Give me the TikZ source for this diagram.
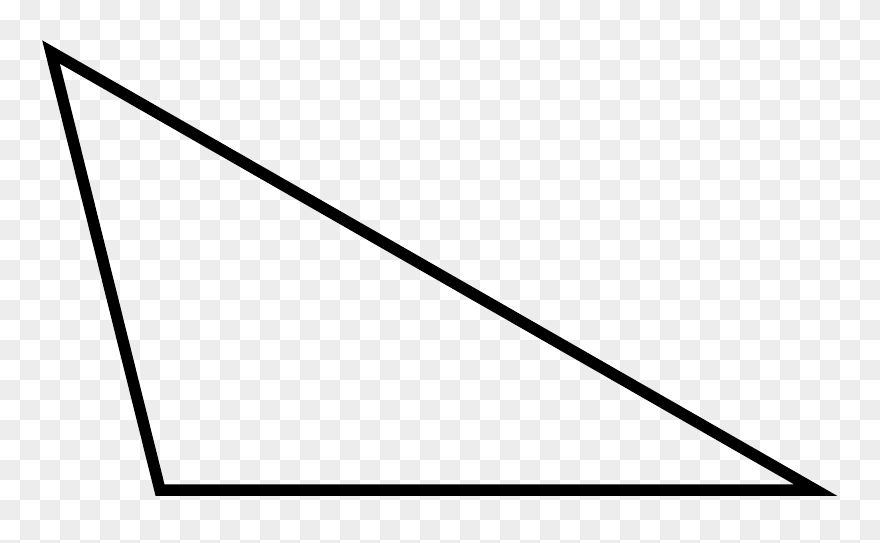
\documentclass[tikz,border=0pt]{standalone}
\usepackage{tikz}
\usetikzlibrary{calc}
\definecolor{checkgrey}{RGB}{237,237,237}

\begin{document}
\begin{tikzpicture}[x=1pt,y=-1pt]
      \useasboundingbox (0,0) rectangle (880,542);
      \clip (0,0) rectangle (880,542);

      % checker background
      \fill[white] (0,0) rectangle (880,542);
      \foreach \i in {0,...,43}{
        \foreach \j in {0,...,27}{
          \pgfmathtruncatemacro{\odd}{mod(\i+\j,2)}
          \ifnum\odd=1
            \fill[checkgrey] (20*\i,20*\j) rectangle ++(20,20);
          \fi
        }
      }

      % triangle corners
      \coordinate (A) at (51,52);
      \coordinate (B) at (160,490);
      \coordinate (C) at (815.5,490);

      \draw[black, line width=11.5pt, line join=miter] (A) -- (B) -- (C) -- cycle;
    \end{tikzpicture}
\end{document}
